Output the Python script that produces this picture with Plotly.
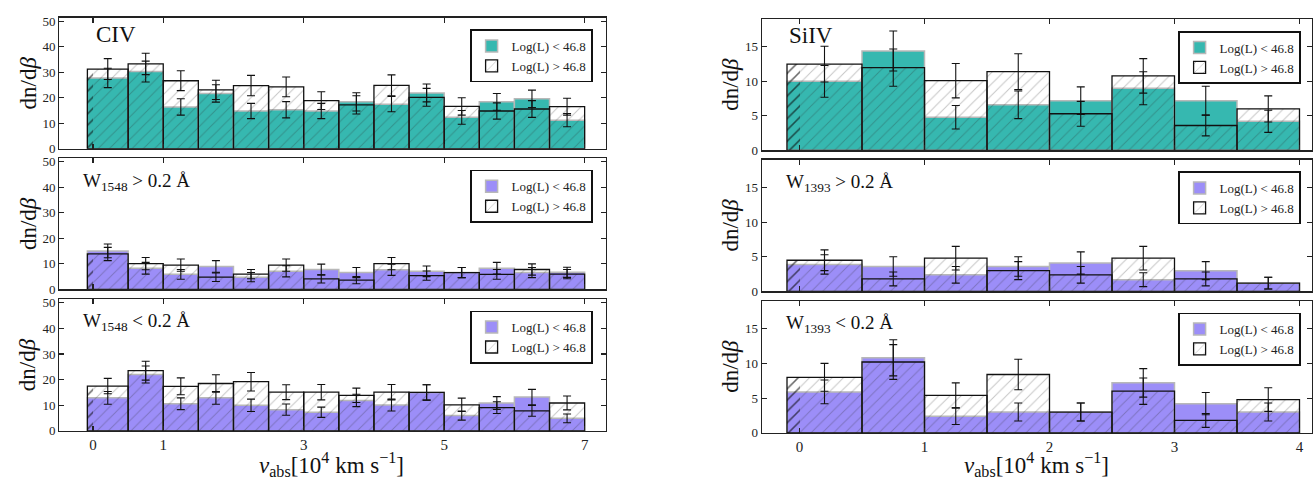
import plotly.graph_objects as go

# ---------------- data ----------------
civ_edges = [-0.08, 0.5, 1.0, 1.5, 2.0, 2.5, 3.0, 3.5, 4.0, 4.5, 5.0, 5.5, 6.0, 6.5, 7.0]
siv_edges = [-0.1, 0.5, 1.0, 1.5, 2.0, 2.5, 3.0, 3.5, 4.0]

# CIV all
civ_lo = [27.8, 30.3, 16.4, 21.7, 14.8, 15.3, 14.8, 18.4, 17.5, 21.9, 12.3, 18.4, 19.6, 11.2]
civ_lo_err = [3.8, 4.1, 3.2, 3.4, 3.0, 3.2, 3.0, 3.6, 3.0, 3.5, 2.7, 3.3, 3.4, 2.6]
civ_hi = [31.3, 33.3, 26.7, 23.1, 24.8, 24.3, 18.9, 17.2, 24.9, 20.2, 16.6, 14.8, 15.6, 16.5]
civ_hi_err = [4.1, 4.2, 3.9, 3.8, 4.0, 3.9, 3.5, 3.6, 4.1, 3.5, 3.4, 3.2, 3.3, 3.3]

# CIV W1548 > 0.2
civs_lo = [15.1, 8.3, 5.9, 9.0, 4.8, 7.1, 7.8, 6.6, 7.7, 7.1, 6.6, 8.3, 6.6, 6.7]
civs_lo_err = [2.7, 2.3, 1.9, 2.3, 1.8, 2.2, 2.1, 2.0, 2.2, 2.1, 2.0, 2.3, 2.0, 2.0]
civs_hi = [13.9, 10.1, 9.5, 4.8, 6.0, 9.5, 4.1, 3.6, 10.1, 5.4, 6.6, 5.9, 7.8, 6.0]
civs_hi_err = [2.6, 2.4, 2.4, 1.7, 1.8, 2.4, 1.6, 1.4, 2.4, 1.8, 2.0, 1.9, 2.2, 1.8]

# CIV W1548 < 0.2
civw_lo = [12.9, 22.0, 10.6, 12.9, 10.0, 8.3, 7.3, 11.9, 10.1, 15.0, 6.0, 10.9, 13.2, 4.9]
civw_lo_err = [2.5, 3.3, 2.3, 2.5, 2.4, 2.2, 2.0, 2.4, 2.3, 3.0, 1.8, 2.5, 3.0, 1.7]
civw_hi = [17.5, 23.5, 17.4, 18.5, 19.2, 15.1, 15.1, 13.9, 15.1, 15.0, 10.2, 9.1, 7.8, 10.9]
civw_hi_err = [3.0, 3.7, 3.3, 3.4, 3.6, 2.9, 3.0, 2.8, 3.0, 3.0, 2.6, 2.3, 2.1, 2.7]

# SiIV all
si_lo = [10.0, 14.4, 4.8, 6.6, 7.2, 9.0, 7.2, 4.2]
si_lo_err = [2.3, 2.9, 1.7, 2.0, 2.0, 2.4, 2.1, 1.6]
si_hi = [12.5, 12.0, 10.1, 11.4, 5.3, 10.8, 3.6, 6.0]
si_hi_err = [2.6, 2.7, 2.5, 2.6, 1.8, 2.5, 1.5, 1.9]

# SiIV W1393 > 0.2
sis_lo = [3.9, 3.6, 2.4, 3.6, 4.1, 1.7, 3.0, 1.2]
sis_lo_err = [1.4, 1.4, 1.2, 1.4, 1.6, 1.0, 1.3, 0.85]
sis_hi = [4.5, 1.8, 4.8, 3.0, 2.4, 4.8, 1.8, 1.2]
sis_hi_err = [1.5, 1.0, 1.7, 1.3, 1.2, 1.7, 1.0, 0.85]

# SiIV W1393 < 0.2
siw_lo = [5.9, 10.8, 2.4, 3.0, 3.0, 7.2, 4.2, 3.0]
siw_lo_err = [1.7, 2.6, 1.2, 1.3, 1.3, 2.05, 1.6, 1.3]
siw_hi = [8.0, 10.2, 5.4, 8.4, 3.0, 6.0, 1.8, 4.8]
siw_hi_err = [2.0, 2.5, 1.8, 2.2, 1.3, 1.9, 1.0, 1.7]

civ_xticks = [0, 1, 3, 5, 7]
siv_xticks = [0, 1, 2, 3, 4]
civ_yticks = [0, 10, 20, 30, 40, 50]
siv_yticks = [0, 5, 10, 15]

legend_lo = "Log(L) < 46.8"
legend_hi = "Log(L) > 46.8"
panel_labels = ["CIV", "W<sub>1548</sub> > 0.2 Å", "W<sub>1548</sub> < 0.2 Å",
                "SiIV", "W<sub>1393</sub> > 0.2 Å", "W<sub>1393</sub> < 0.2 Å"]

# ---------------- style ----------------
TEAL = "#36b8b0"
PURPLE = "#9c8ef8"
SERIF = "Liberation Serif, Times New Roman, serif"
W, H = 1314, 488

def px_x(p):
    return p / W

def px_y(p):
    return 1 - p / H

# panel frames in pixels: (left, right, top, bottom)
frames = [
    (59.3, 605.7, 14.0, 148.3),
    (59.3, 605.7, 158.0, 292.6),
    (59.3, 605.7, 302.3, 437.7),
    (762.0, 1312.0, 15.7, 150.0),
    (762.0, 1312.0, 159.6, 294.7),
    (762.0, 1312.0, 304.3, 439.7),
]

panels = [
    (civ_edges, civ_lo, civ_lo_err, civ_hi, civ_hi_err, TEAL),
    (civ_edges, civs_lo, civs_lo_err, civs_hi, civs_hi_err, PURPLE),
    (civ_edges, civw_lo, civw_lo_err, civw_hi, civw_hi_err, PURPLE),
    (siv_edges, si_lo, si_lo_err, si_hi, si_hi_err, TEAL),
    (siv_edges, sis_lo, sis_lo_err, sis_hi, sis_hi_err, PURPLE),
    (siv_edges, siw_lo, siw_lo_err, siw_hi, siw_hi_err, PURPLE),
]

fig = go.Figure()
layout_upd = {}
annotations = []

hatch = dict(shape="/", fgcolor="rgba(40,40,40,0.55)", bgcolor="rgba(0,0,0,0)",
             size=8, solidity=0.12)
hatch_dark = dict(shape="/", fgcolor="rgba(0,0,0,0.95)", bgcolor="rgba(0,0,0,0)",
                  size=8, solidity=0.2)

for i, (edges, lo, lo_err, hi, hi_err, col) in enumerate(panels):
    n = i + 1
    xa = "x" if n == 1 else f"x{n}"
    ya = "y" if n == 1 else f"y{n}"
    lg = "legend" if n == 1 else f"legend{n}"
    centers = [(edges[k] + edges[k + 1]) / 2 for k in range(len(edges) - 1)]
    widths = [edges[k + 1] - edges[k] for k in range(len(edges) - 1)]

    fig.add_trace(go.Bar(
        x=centers, y=lo, width=widths, xaxis=xa, yaxis=ya, legend=lg,
        name=legend_lo, marker=dict(color=col, line=dict(color="#b8b8b8", width=1.5)),
        showlegend=True, hoverinfo="skip"))
    fig.add_trace(go.Bar(
        x=centers, y=hi, width=widths, xaxis=xa, yaxis=ya, legend=lg,
        name=legend_hi,
        marker=dict(color="rgba(0,0,0,0)", line=dict(color="#111111", width=1.3),
                    pattern=hatch),
        showlegend=True, hoverinfo="skip"))
    # darker hatched sliver of the first bin, left of zero
    fig.add_trace(go.Bar(
        x=[edges[0] / 2], y=[hi[0]], width=[-edges[0]], xaxis=xa, yaxis=ya,
        marker=dict(color="rgba(0,0,0,0)", line=dict(width=0), pattern=hatch_dark),
        showlegend=False, hoverinfo="skip"))
    for vals, errs in ((hi, hi_err), (lo, lo_err)):
        fig.add_trace(go.Scatter(
            x=centers, y=vals, xaxis=xa, yaxis=ya, mode="markers",
            marker=dict(size=1, color="rgba(0,0,0,0)"),
            error_y=dict(type="data", array=errs, visible=True, color="#111111",
                         thickness=1.1, width=4),
            showlegend=False, hoverinfo="skip"))

    l, r, t, b = frames[i]
    is_civ = i < 3
    bottom = i in (2, 5)
    xname = "xaxis" if n == 1 else f"xaxis{n}"
    yname = "yaxis" if n == 1 else f"yaxis{n}"
    common = dict(showline=True, linecolor="#222222", linewidth=1.3, mirror="ticks",
                  ticks="inside", ticklen=5, tickwidth=1.1, tickcolor="#222222",
                  showgrid=False, zeroline=False,
                  tickfont=dict(family=SERIF, size=13, color="#222222"))
    layout_upd[xname] = dict(
        common, domain=[px_x(l), px_x(r)], anchor=ya,
        range=[-0.48, 7.3] if is_civ else [-0.3, 4.1],
        tickvals=civ_xticks if is_civ else siv_xticks,
        tickfont=dict(family=SERIF, size=15, color="#222222"),
        showticklabels=bottom)
    layout_upd[yname] = dict(
        common, domain=[px_y(b), px_y(t)], anchor=xa,
        range=[0, 51.5] if is_civ else [0, 19.0],
        tickvals=civ_yticks if is_civ else siv_yticks)

    # legend
    lgx = 593 if is_civ else 1301
    layout_upd[lg] = dict(
        x=px_x(lgx), y=px_y(t + 12), xanchor="right", yanchor="top",
        bgcolor="white", bordercolor="#111111", borderwidth=1.6,
        font=dict(family=SERIF, size=13, color="#222222"),
        tracegroupgap=0, itemclick=False, itemdoubleclick=False)

    # panel label
    big = i in (0, 3)
    annotations.append(dict(
        text=panel_labels[i], xref="paper", yref="paper",
        x=px_x(l + (35 if big and is_civ else (25 if big else 22))),
        y=px_y(t + (17 if big else 24)),
        xanchor="left", yanchor="middle", showarrow=False,
        font=dict(family=SERIF, size=23 if big else 19, color="#111111")))

    # y title
    annotations.append(dict(
        text="dn/d<i>β</i>", xref="paper", yref="paper",
        x=px_x(l - 31), y=px_y((t + b) / 2), xanchor="center", yanchor="middle",
        textangle=-90, showarrow=False,
        font=dict(family=SERIF, size=23, color="#111111")))

    if bottom:
        annotations.append(dict(
            text="<i>v</i><sub>abs</sub>[10<sup>4</sup> km s<sup>−1</sup>]",
            xref="paper", yref="paper",
            x=px_x((l + r) / 2 - 1), y=px_y(472), xanchor="center", yanchor="middle",
            showarrow=False, font=dict(family=SERIF, size=23, color="#111111")))

fig.update_layout(
    width=W, height=H, margin=dict(l=0, r=0, t=0, b=0),
    paper_bgcolor="white", plot_bgcolor="white",
    barmode="overlay", bargap=0, annotations=annotations,
    **layout_upd)

fig.write_html(
    "out.html",
    config={"displayModeBar": False, "staticPlot": True},
    post_script="document.body.style.margin='0';document.body.style.overflow='hidden';")
